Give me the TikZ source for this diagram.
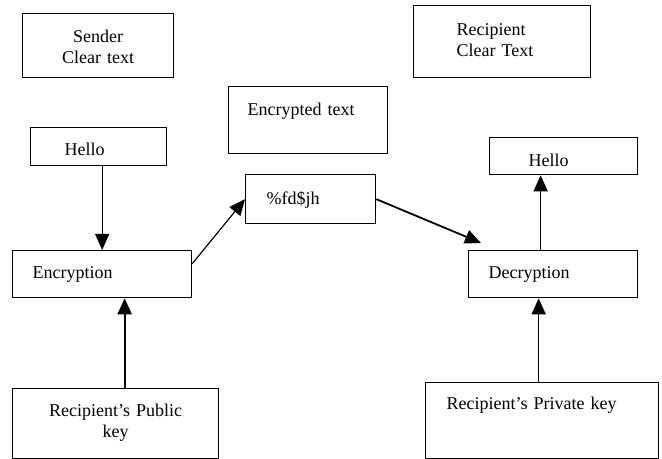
\documentclass[tikz,border=0pt]{standalone}
\usepackage{fontspec}
\setmainfont{Liberation Serif}
\usepackage{tikz}
\usetikzlibrary{arrows.meta}

\begin{document}
\begin{tikzpicture}[x=0.5pt, y=-0.5pt,
            box/.style={draw, line width=0.65pt, anchor=north west, inner ysep=0pt,
                font=\fontsize{9}{10.5}\selectfont},
            >={Triangle[length=8pt, width=7pt]}]
            \useasboundingbox (0,0) rectangle (662,459);

            \node[box, align=center, inner xsep=4pt, text width=67.5pt, text height=14.5pt, text depth=17.5pt] (sender) at (22,13) {Sender\\Clear text};
            \node[box, align=left, inner xsep=21.5pt, text width=45.5pt, text height=15pt, text depth=21pt] (recipient) at (413,5) {Recipient\\Clear Text};
            \node[box, align=left, inner xsep=9.5pt, text width=60.5pt, text height=14.5pt, text depth=19pt] (enctext) at (228,86) {Encrypted text};

            \node[box, align=left, inner xsep=17pt, text width=34pt, text height=14pt, text depth=5pt] (hello1) at (30,127) {Hello};
            \node[box, align=left, inner xsep=10.5pt, text width=44pt, text height=15pt, text depth=9.5pt] (cipher) at (245,174) {\%fd\$jh};
            \node[box, align=left, inner xsep=19.5pt, text width=35pt, text height=14.5pt, text depth=4pt] (hello2) at (489,137) {Hello};

            \node[box, align=left, inner xsep=10pt, text width=69.5pt, text height=14pt, text depth=9.5pt] (enc) at (12,250) {Encryption};
            \node[box, align=left, inner xsep=10pt, text width=64.5pt, text height=14pt, text depth=9.5pt] (dec) at (468,250) {Decryption};

            \node[box, align=center, inner xsep=4pt, text width=95pt, text height=14pt, text depth=21pt] (pubkey) at (12,388) {Recipient’s Public\\key};
            \node[box, align=left, inner xsep=10.5pt, text width=95.5pt, text height=13.5pt, text depth=24.5pt] (privkey) at (425,382) {Recipient’s Private key};

            \draw[->, line width=0.6pt] (enc.north |- hello1.south) -- (enc.north);
            \draw[->, line width=1.1pt] ([xshift=4.5pt]pubkey.north) -- ([xshift=4.5pt]pubkey.north |- enc.south);
            \draw[->, line width=0.6pt] ([yshift=5.25pt]enc.east) -- (cipher.west);
            \draw[->, line width=0.9pt] (cipher.east) -- ([xshift=6.5pt, yshift=3.5pt]dec.north west);
            \draw[->, line width=0.8pt] ([xshift=-6.25pt]dec.north) -- ([xshift=-6.25pt]dec.north |- hello2.south);
            \draw[->, line width=0.8pt] ([xshift=-1.75pt]privkey.north) -- ([xshift=-1.75pt]privkey.north |- dec.south);
        \end{tikzpicture}
\end{document}
